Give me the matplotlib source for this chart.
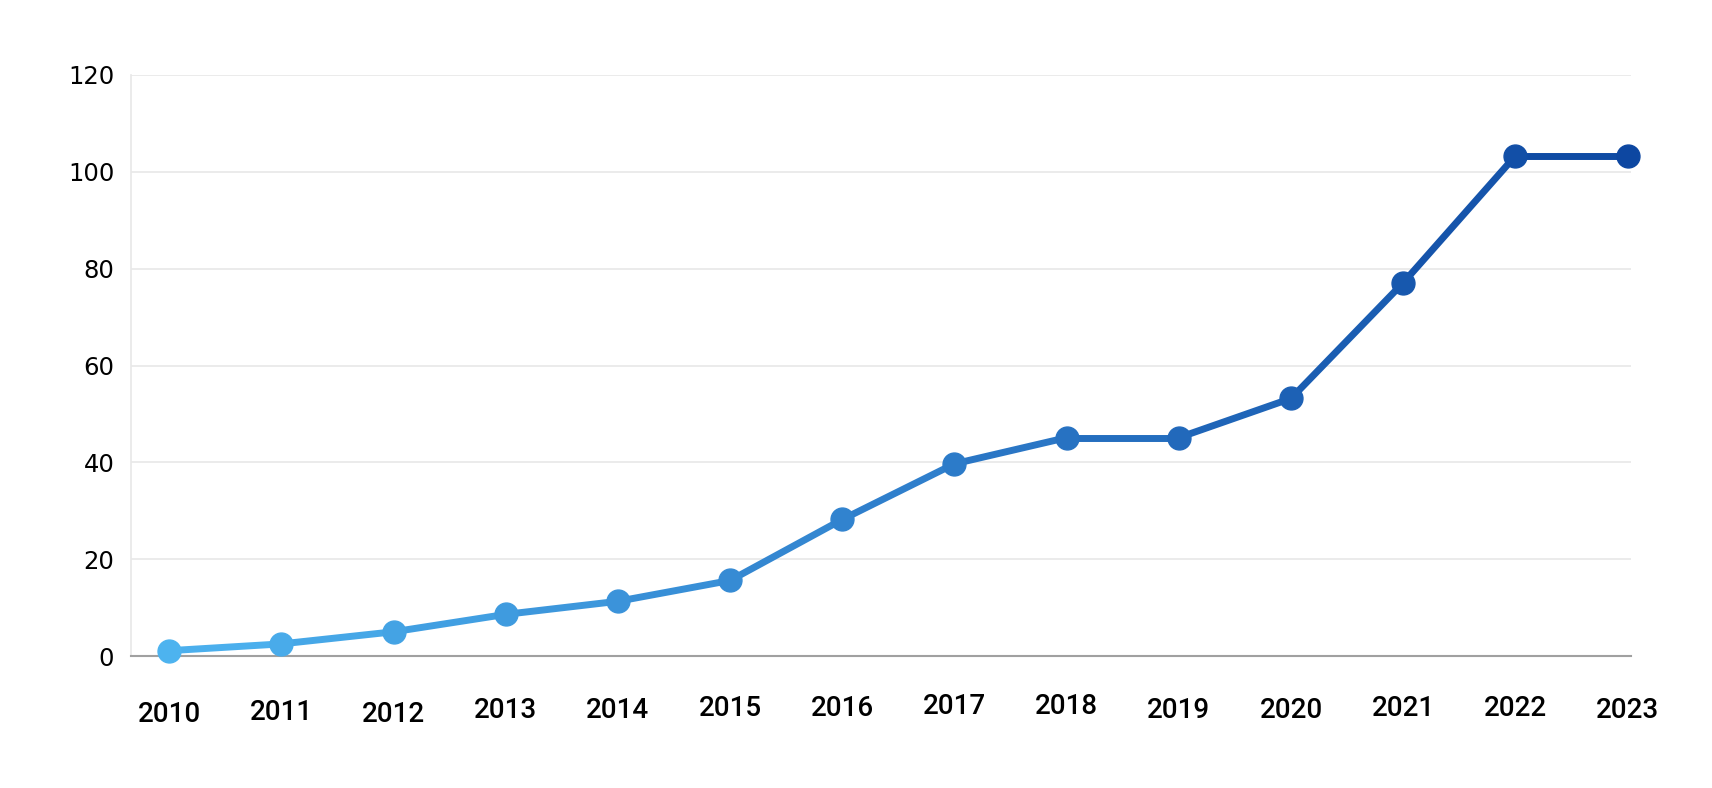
import matplotlib.pyplot as plt
import matplotlib.transforms as mtransforms
from matplotlib.colors import LinearSegmentedColormap

years = [2010, 2011, 2012, 2013, 2014, 2015, 2016, 2017, 2018, 2019, 2020, 2021, 2022, 2023]
values = [1.1, 2.5, 5.0, 8.6, 11.3, 15.6, 28.2, 39.7, 45.1, 45.1, 53.2, 77.1, 103.3, 103.3]
y_ticks = [0, 20, 40, 60, 80, 100, 120]
# small vertical jitter of the year labels in the original (pixels, down is positive)
label_shift = [5, 3, 5, 0.5, 0.5, -1.3, -1.3, -3.3, -3.3, 1, 0.5, -1.3, -1.3, 0.5]

cmap = LinearSegmentedColormap.from_list("blues", ["#4db3ef", "#2f7fcc", "#0d47a1"])

fig = plt.figure(figsize=(17.12, 7.88), dpi=100)
ax = fig.add_axes([131 / 1712, 1 - 656 / 788, 1500 / 1712, 581 / 788])

n = len(years)
for i in range(n - 1):
    c = cmap((i + 0.5) / (n - 1))
    ax.plot(years[i:i + 2], values[i:i + 2], color=c, lw=5, solid_capstyle="round",
            zorder=3, clip_on=False)
for i in range(n):
    ax.plot(years[i], values[i], "o", ms=16.5, color=cmap(i / (n - 1)), zorder=4,
            clip_on=False)

ax.set_xlim(2009.66, 2023.03)
ax.set_ylim(0, 120)
ax.set_yticks(y_ticks)
ax.set_xticks(years)
ax.set_xticklabels([str(y) for y in years])
ax.grid(axis="y", color="#e8e8e8", lw=1.2)
ax.set_axisbelow(True)
for s in ["top", "right"]:
    ax.spines[s].set_visible(False)
ax.spines["left"].set_color("#e8e8e8")
ax.spines["left"].set_linewidth(1.2)
ax.spines["bottom"].set_color("#a0a0a0")
ax.spines["bottom"].set_linewidth(1.5)
ax.tick_params(axis="both", length=0, labelcolor="#000000")
ax.tick_params(axis="x", pad=29, labelsize=20)
ax.tick_params(axis="y", pad=12, labelsize=17.5)

for lab, dy in zip(ax.get_xticklabels(), label_shift):
    lab.set_fontfamily("Roboto")
    lab.set_fontweight("medium")
    lab.set_transform(lab.get_transform() +
                      mtransforms.ScaledTranslation(0, -dy / 100, fig.dpi_scale_trans))
for lab in ax.get_yticklabels():
    lab.set_fontfamily("DejaVu Sans")

fig.savefig("out.png", dpi=100, facecolor="white")
